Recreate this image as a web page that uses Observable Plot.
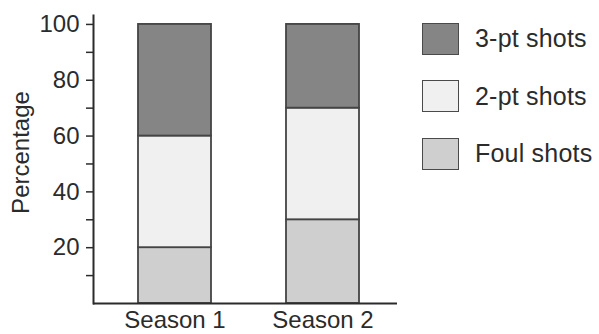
<!DOCTYPE html>
<html>
<head>
<meta charset="utf-8">
<script src="https://cdn.jsdelivr.net/npm/d3@7"></script>
<script src="https://cdn.jsdelivr.net/npm/@observablehq/plot@0.6"></script>
<style>
  html, body { margin: 0; padding: 0; background: #fff; }
  #wrap { position: relative; width: 599px; height: 334px; font-family: "Liberation Sans", Arial, sans-serif; }
  #wrap svg text { font-size: 24px; }
  #legend { position: absolute; left: 422px; top: 22px; }
  .item { display: flex; align-items: center; height: 33px; margin-bottom: 24.5px; }
  .sw { width: 35px; height: 30px; border: 1.6px solid #4a4a4a; box-sizing: content-box; margin-right: 16px; }
  .lab { font-size: 25px; color: #2b2b2b; letter-spacing: 0.2px; }
</style>
</head>
<body>
<div id="wrap"></div>
<script>
const seasons = ["Season 1", "Season 2"];
const shotTypes = ["Foul shots", "2-pt shots", "3-pt shots"];
const foulShots = [20, 30];
const twoPtShots = [40, 40];
const threePtShots = [40, 30];
const fills = ["#cfcfcf", "#f0f0f0", "#858585"];
const legendOrder = ["3-pt shots", "2-pt shots", "Foul shots"];
const majorTicks = [20, 40, 60, 80, 100];
const minorTicks = [10, 30, 50, 70, 90];

const series = [foulShots, twoPtShots, threePtShots];
const data = [];
seasons.forEach((s, i) => {
  shotTypes.forEach((t, j) => data.push({season: s, type: t, value: series[j][i]}));
});

const ink = "#2b2b2b";
const chart = Plot.plot({
  width: 599,
  height: 334,
  marginLeft: 93,
  marginRight: 202,
  marginTop: 15,
  marginBottom: 31,
  style: {fontFamily: "'Liberation Sans', Arial, sans-serif", fontSize: "24px", color: ink, background: "#fff"},
  x: {type: "band", domain: seasons, paddingInner: 0.507, paddingOuter: 0.2805, align: 0.542},
  y: {domain: [0, 103.2]},
  color: {domain: shotTypes, range: fills},
  marks: [
    Plot.barY(data, Plot.stackY({order: shotTypes, x: "season", y: "value", fill: "type", stroke: "#444", strokeWidth: 1.8})),
    Plot.axisY({ticks: minorTicks, tickSize: 7, text: null, stroke: ink, strokeWidth: 1.5, label: null}),
    Plot.axisY({ticks: majorTicks, tickSize: 7, tickPadding: 7, stroke: ink, strokeWidth: 1.5, fill: ink, label: null}),
    Plot.text(["Percentage"], {frameAnchor: "left", textAnchor: "middle", dx: -72, dy: -7, rotate: -90, fill: ink, fontSize: 24}),
    Plot.axisX({tickSize: 0, tickPadding: 7, fill: ink, label: null}),
    Plot.frame({anchor: "left", stroke: ink, strokeWidth: 2}),
    Plot.ruleY([0], {stroke: ink, strokeWidth: 2})
  ]
});
const wrap = document.getElementById("wrap");
wrap.appendChild(chart);

const legend = document.createElement("div");
legend.id = "legend";
legendOrder.forEach(t => {
  const item = document.createElement("div");
  item.className = "item";
  const sw = document.createElement("div");
  sw.className = "sw";
  sw.style.background = fills[shotTypes.indexOf(t)];
  const lab = document.createElement("span");
  lab.className = "lab";
  lab.textContent = t;
  item.appendChild(sw);
  item.appendChild(lab);
  legend.appendChild(item);
});
wrap.appendChild(legend);
</script>
</body>
</html>
